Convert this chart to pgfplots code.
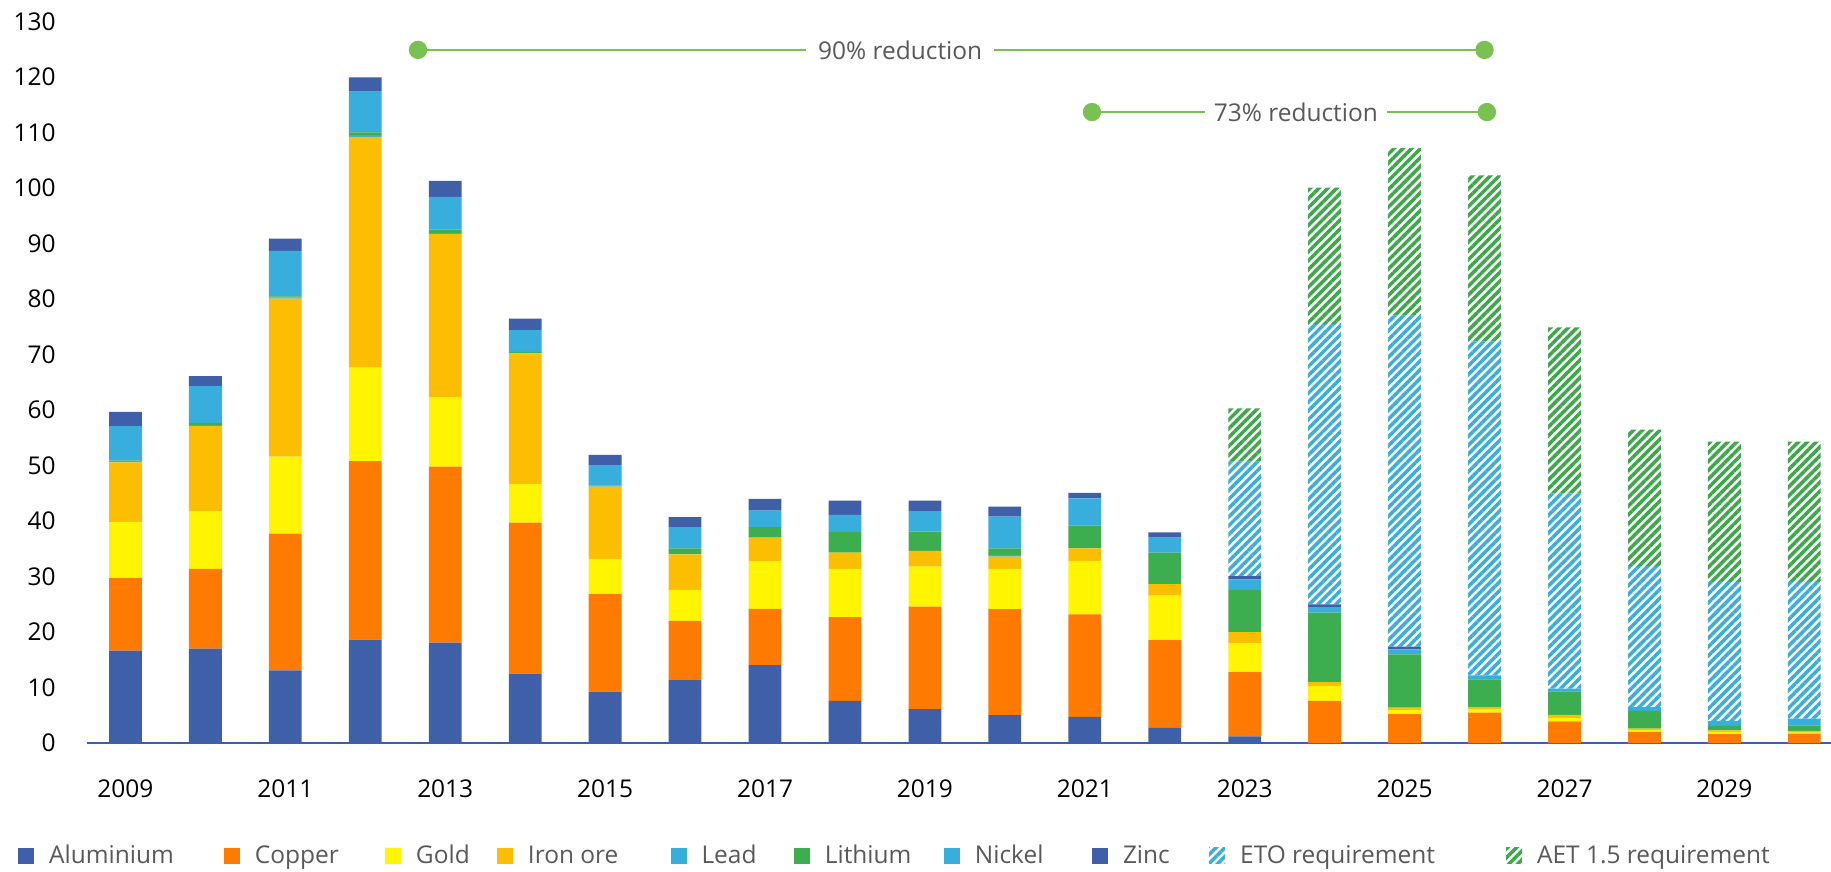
\documentclass[border=0pt]{standalone}
\usepackage{fontspec}
\setmainfont{Open Sans}
\usepackage{pgfplots}
\pgfplotsset{compat=1.18}
\usepackage{pgfplotstable}
\usetikzlibrary{patterns.meta}

\definecolor{alum}{HTML}{3F5FA8}
\definecolor{copper}{HTML}{FF7A00}
\definecolor{gold}{HTML}{FFF500}
\definecolor{iron}{HTML}{FCBE00}
\definecolor{lead}{HTML}{38AEDC}
\definecolor{lith}{HTML}{3DAE4F}
\definecolor{nick}{HTML}{38AEDC}
\definecolor{zinc}{HTML}{3F5FA8}
\definecolor{etoc}{HTML}{3AAED8}
\definecolor{aetc}{HTML}{3DA84A}
\definecolor{annot}{HTML}{79C150}
\definecolor{tgray}{HTML}{595959}

\pgfplotstableread{
year  Al    Cu    Au    Fe    Pb   Li   Ni   Zn   ETO   AET
2009  16.65 13.05 10.1  10.8  0.2  0.1  6.2  2.6  0     0
2010  17.0  14.4  10.4  15.3  0.2  0.4  6.6  1.8  0     0
2011  13.1  24.65 13.85 28.5  0.2  0.2  8.2  2.2  0     0
2012  18.65 32.15 16.85 41.6  0.3  0.5  7.35 2.55 0     0
2013  18.1  31.7  12.45 29.45 0.2  0.6  5.9  2.9  0     0
2014  12.5  27.2  7.0   23.5  0.1  0.2  3.9  2.1  0     0
2015  9.25  17.6  6.35  13.0  0.1  0.1  3.7  1.85 0     0
2016  11.35 10.65 5.6   6.4   0.1  1.0  3.8  1.8  0     0
2017  14.05 10.15 8.6   4.2   0    1.9  3.0  2.1  0     0
2018  7.6   15.1  8.7   2.9   0    3.7  3.1  2.6  0     0
2019  6.1   18.5  7.2   2.85  0    3.45 3.7  1.9  0     0
2020  5.05  19.1  7.25  2.2   0.3  1.2  5.7  1.8  0     0
2021  4.7   18.5  9.65  2.25  0    4.1  4.9  1.0  0     0
2022  2.75  15.8  8.0   2.1   0    5.65 2.7  0.95 0     0
2023  1.2   11.6  5.2   2.0   0    7.6  1.9  0.6  20.6  9.6
2024  0     7.6   2.7   0.7   0    12.5 1.0  0.5  50.5  24.6
2025  0     5.2   0.8   0.4   0    9.6  0.9  0.5  59.6  30.2
2026  0     5.5   0.6   0.4   0    5.0  0.7  0    60.2  29.9
2027  0     3.9   0.6   0.6   0    4.2  0.5  0    35.2  29.9
2028  0     2.0   0.4   0.2   0    3.2  0.7  0    25.4  24.6
2029  0     1.6   0.4   0.3   0    0.8  0.9  0    25.05 25.25
2030  0     1.7   0.2   0.3   0    1.0  1.2  0    24.65 25.25
}\datatable

\begin{document}
\begin{tikzpicture}
\begin{axis}[
  scale only axis,
  width=670.2pt, height=277.2pt,
  xmin=2008.515, xmax=2030.334,
  ymin=0, ymax=130,
  ybar stacked, bar width=0.41,
  axis lines*=left,
  y axis line style={draw=none},
  x axis line style={draw=alum, line width=1pt},
  major tick length=0pt,
  xtick={2009,2011,...,2029},
  ytick={0,10,...,130},
  /pgf/number format/.cd, 1000 sep={}, assume math mode=true, /pgfplots/.cd,
  tick label style={font=\fontsize{9.4}{11}\selectfont, text=black},
  xticklabel style={yshift=-10.5pt},
  yticklabel style={xshift=-8.4pt},
  legend columns=10,
  legend image code/.code={\path[#1,draw=none] (0pt,-2.5pt) rectangle (6.15pt,3.65pt);},
  legend style={at={(-0.03924,-0.1580)}, anchor=west, draw=none, fill=none,
    inner sep=0pt, outer sep=0pt, column sep=0pt, row sep=0pt,
    /tikz/every odd column/.style={column sep=5.76pt},
    /tikz/every even column/.style={column sep=0pt},
    nodes={inner sep=0pt, text height=7pt, text depth=2pt, text=tgray,
      font=\fontsize{9.4}{11}\selectfont}},
]
\addplot[fill=alum, draw=none] table[x=year, y=Al] {\datatable};
\addlegendentry{\makebox[67.1pt][l]{Aluminium}}
\addplot[fill=copper, draw=none] table[x=year, y=Cu] {\datatable};
\addlegendentry{\makebox[50.0pt][l]{Copper}}
\addplot[fill=gold, draw=none] table[x=year, y=Au] {\datatable};
\addlegendentry{\makebox[31.1pt][l]{Gold}}
\addplot[fill=iron, draw=none] table[x=year, y=Fe] {\datatable};
\addlegendentry{\makebox[54.8pt][l]{Iron ore}}
\addplot[fill=lead, draw=none] table[x=year, y=Pb] {\datatable};
\addlegendentry{\makebox[35.5pt][l]{Lead}}
\addplot[fill=lith, draw=none] table[x=year, y=Li] {\datatable};
\addlegendentry{\makebox[45.7pt][l]{Lithium}}
\addplot[fill=nick, draw=none] table[x=year, y=Ni] {\datatable};
\addlegendentry{\makebox[45.0pt][l]{Nickel}}
\addplot[fill=zinc, draw=none] table[x=year, y=Zn] {\datatable};
\addlegendentry{\makebox[33.1pt][l]{Zinc}}
\addplot[draw=none, pattern={Lines[angle=45,distance=2.4pt,line width=1.35pt]}, pattern color=etoc] table[x=year, y=ETO] {\datatable};
\addlegendentry{\makebox[102.2pt][l]{ETO requirement}}
\addplot[draw=none, pattern={Lines[angle=45,distance=2.4pt,line width=1.35pt]}, pattern color=aetc] table[x=year, y=AET] {\datatable};
\addlegendentry{AET 1.5 requirement}
\end{axis}

\begin{axis}[
  scale only axis,
  width=670.2pt, height=277.2pt,
  xmin=2008.515, xmax=2030.334,
  ymin=0, ymax=130,
  hide axis, clip=false,
]
\addplot[annot, line width=0.9pt, mark=*, mark size=3.07pt, mark options={fill=annot, draw=annot}]
  coordinates {(2012.66,124.9) (2026.0,124.9)};
\addplot[annot, line width=0.9pt, mark=*, mark size=3.07pt, mark options={fill=annot, draw=annot}]
  coordinates {(2021.09,113.7) (2026.03,113.7)};
\node[fill=white, text=tgray, inner xsep=4.5pt, inner ysep=1pt, font=\fontsize{9.4}{11}\selectfont]
  at (axis cs:2018.69,124.9) {90\% reduction};
\node[fill=white, text=tgray, inner xsep=3.5pt, inner ysep=1pt, font=\fontsize{9.4}{11}\selectfont]
  at (axis cs:2023.64,113.7) {73\% reduction};
\end{axis}
\pgfresetboundingbox
\path[use as bounding box] (-33.3pt,-49.2pt) rectangle (670.2pt,285.5pt);
\end{tikzpicture}
\end{document}
